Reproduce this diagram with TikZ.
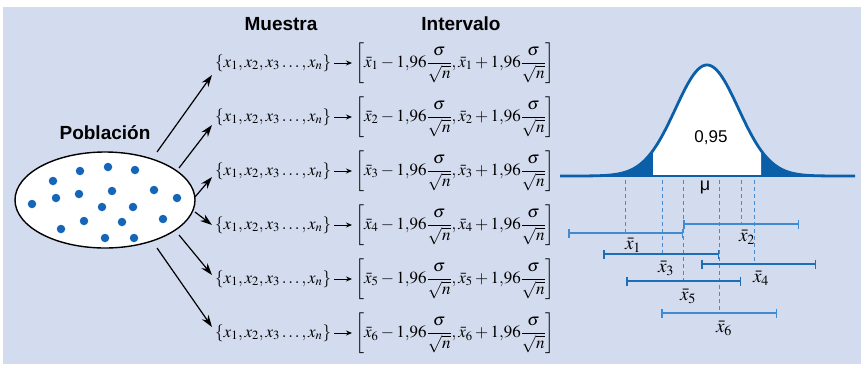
\documentclass[tikz,border=0pt]{standalone}
\usepackage{amsmath}
\usepackage{mathptmx}
\usepackage[no-math]{fontspec}
\setmainfont{Liberation Sans}
\usetikzlibrary{arrows.meta,shapes.geometric,calc}
\definecolor{bgc}{HTML}{D3DCEE}
\definecolor{dotc}{HTML}{1565B8}
\definecolor{curvec}{HTML}{0B5EA8}
\definecolor{ivlight}{HTML}{3F8AD0}
\definecolor{ivdark}{HTML}{1F6DB5}
\definecolor{dashc}{HTML}{4A8AD0}
\newcommand{\sfrac}{\dfrac{\sigma}{\sqrt{n}}}
\begin{document}
\begin{tikzpicture}[x=1pt,y=-1pt,
  heading/.style={font=\fontsize{19}{22}\selectfont\bfseries,inner sep=0},
  dot/.style={circle,fill=dotc,inner sep=0,minimum size=8.5pt},
  bigarrow/.style={-{Stealth[length=12pt,width=8pt]},line width=1.2pt},
  smallarrow/.style={-{Stealth[length=6pt,width=5pt]},line width=0.9pt},
  samplebox/.style={inner sep=0,anchor=west,font=\fontsize{17}{20}\selectfont},
  dashline/.style={dashc,line width=1pt,dash pattern=on 4pt off 3pt},
  ivline/.style={{Bar[width=9pt]}-{Bar[width=9pt]},line width=1.5pt},
  xlab/.style={inner sep=0,font=\fontsize{19}{22}\selectfont}]
\useasboundingbox (0,0) rectangle (861,367);
\fill[white] (0,0) rectangle (861,367);
\fill[bgc] (3,7) rectangle (861,364);

% headings
\node[heading] (hpob) at (105,133) {Población};
\node[heading] (hmue) at (281,24) {Muestra};
\node[heading] (hint) at (461,24) {Intervalo};

% population
\node[ellipse,draw,fill=white,line width=1.4pt,minimum width=180pt,minimum height=96pt,inner sep=0] (pop) at (105,200) {};
\foreach \p/\q in {80/171,108/167,135/170,53/181,79/194,112/191,154/190,56/198,32/204,177/198,102/207,133/207,84/221,122/222,163/219,61/229,105/238,134/238}
  \node[dot] at (\p,\q) {};

% rows
\foreach \i in {1,...,6}{
  \pgfmathsetmacro{\yy}{63+54*(\i-1)}
  \node[samplebox] (s\i) at (215,\yy) {$\{x_1,x_2,x_3\ldots,x_n\}$};
  \node[samplebox] (v\i) at (355,\yy) {$\left[\bar{x}_{\i}-1{,}96\sfrac,\bar{x}_{\i}+1{,}96\sfrac\right]$};
  \draw[smallarrow] ([xshift=3pt]s\i.east) -- ([xshift=-3pt]v\i.west);
}

% arrows from population
\coordinate (a1) at (157,152);
\coordinate (a2) at (179,168);
\coordinate (a3) at (195,197);
\coordinate (a4) at (195,212);
\coordinate (a5) at (179,235);
\coordinate (a6) at (157,248);
\draw[bigarrow] (a1) -- ($(s1.west)+(-3,12)$);
\draw[bigarrow] (a2) -- ($(s2.west)+(-3,8)$);
\draw[bigarrow] (a3) -- ($(s3.west)+(-3,6)$);
\draw[bigarrow] (a4) -- ($(s4.west)+(-3,0)$);
\draw[bigarrow] (a5) -- ($(s5.west)+(-3,-4)$);
\draw[bigarrow] (a6) -- ($(s6.west)+(-3,-6)$);

% normal curve
\fill[curvec] (560,176) -- plot[domain=560:653,samples=80] (\x,{176-111*exp(-((\x-707)/31.5)^2/2)}) -- (653,176) -- cycle;
\fill[curvec] (761,176) -- plot[domain=761:855,samples=80] (\x,{176-111*exp(-((\x-707)/31.5)^2/2)}) -- (855,176) -- cycle;
\fill[white] (653,176) -- plot[domain=653:761,samples=80] (\x,{176-111*exp(-((\x-707)/31.5)^2/2)}) -- (761,176) -- cycle;
\draw[curvec,line width=2.8pt,line join=round] plot[domain=560:855,samples=200] (\x,{176-111*exp(-((\x-707)/31.5)^2/2)});
\draw[curvec,line width=2.6pt] (560,176) -- (855,176);
\node[inner sep=0,font=\fontsize{17}{20}\selectfont] (p95) at (711,138) {0,95};
\node[inner sep=0,font=\fontsize{18}{20}\selectfont] (mu) at (705,187) {μ};

% dashed lines
\draw[dashline] (625,180) -- (625,233);
\draw[dashline] (662,180) -- (662,254);
\draw[dashline] (683,180) -- (683,281);
\draw[dashline] (719,180) -- (719,313);
\draw[dashline] (741,180) -- (741,224);
\draw[dashline] (754,180) -- (754,264);

% intervals
\draw[ivline,ivlight] (568,233) -- (683,233);
\draw[ivline,ivlight] (683,224) -- (799,224);
\draw[ivline,ivdark] (603,254) -- (719,254);
\draw[ivline,ivdark] (701,264) -- (816,264);
\draw[ivline,ivdark] (626,281) -- (741,281);
\draw[ivline,ivlight] (661,313) -- (777,313);

\node[xlab] (l1) at (633,245) {$\bar{x}_1$};
\node[xlab] (l2) at (747,237) {$\bar{x}_2$};
\node[xlab] (l3) at (666,268) {$\bar{x}_3$};
\node[xlab] (l4) at (761,278) {$\bar{x}_4$};
\node[xlab] (l5) at (688,296) {$\bar{x}_5$};
\node[xlab] (l6) at (724,328) {$\bar{x}_6$};
\end{tikzpicture}
\end{document}
